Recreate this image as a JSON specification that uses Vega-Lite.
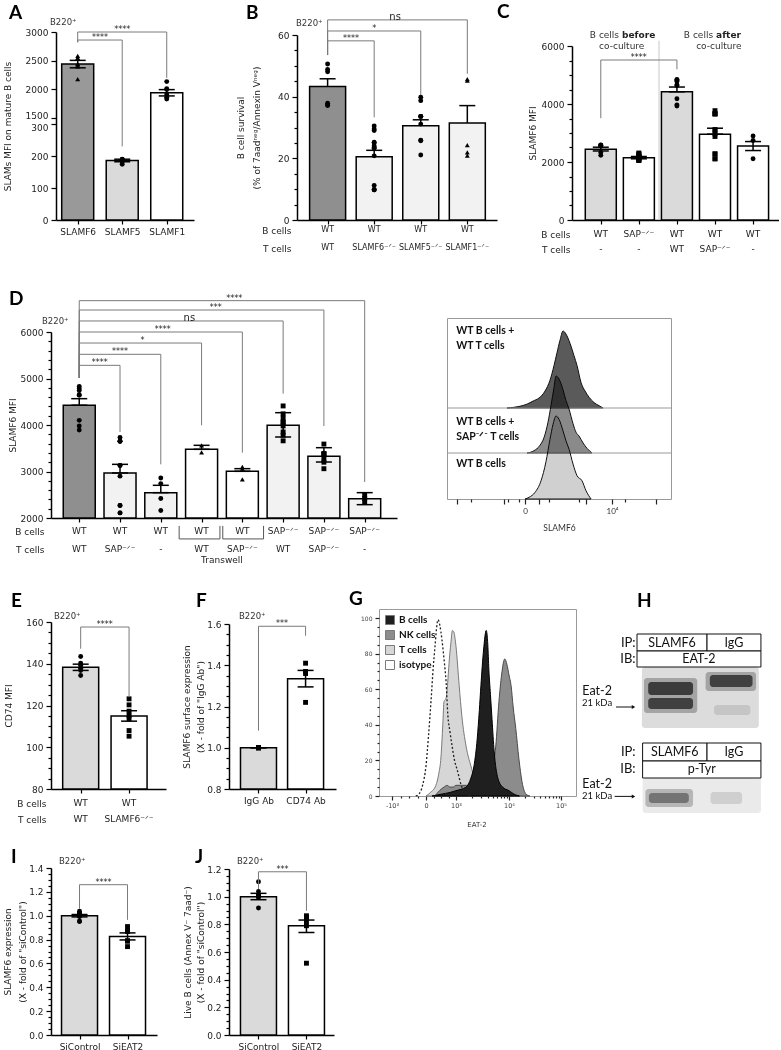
{
"$schema": "https://vega.github.io/schema/vega-lite/v6.json",
"padding": {"left": 3, "top": 2, "right": 0, "bottom": 0},
"background": "white",
"spacing": 0,
"bounds": "flush",
"resolve": {"scale": {"fill": "independent", "shape": "independent"}},
"config": {
 "view": {"stroke": null},
 "font": "DejaVu Sans",
 "axis": {"grid": false, "domainColor": "#000", "domainWidth": 1.5, "tickColor": "#000", "tickWidth": 1.2, "labelColor": "#222", "labelFontSize": 9, "labelFont": "DejaVu Sans", "titleFont": "DejaVu Sans", "titleFontSize": 9, "titleFontWeight": "normal", "titleColor": "#222", "labelOverlap": false, "labelFlush": false},
 "title": {"font": "Lato", "fontSize": 19, "fontWeight": "bold", "color": "#000", "anchor": "start", "frame": "group"},
 "text": {"font": "DejaVu Sans", "fontSize": 9, "color": "#222"}
},
"datasets": {
 "A_bars": [{"g":1,"mean":2440,"lo":2375,"hi":2505},{"g":2,"mean":186,"lo":182,"hi":190},{"g":3,"mean":1940,"lo":1885,"hi":1995}],
 "A_pts": [{"g":1,"v":2540,"rep":-2},{"g":1,"v":2550,"rep":0},{"g":1,"v":2585,"rep":2},{"g":1,"v":2430,"rep":3},{"g":1,"v":2400,"rep":1},{"g":1,"v":2445,"rep":-1},{"g":1,"v":2180,"rep":-1},
  {"g":2,"v":188,"rep":-3},{"g":2,"v":190,"rep":-1},{"g":2,"v":189,"rep":1},{"g":2,"v":187,"rep":3},{"g":2,"v":183,"rep":-2},{"g":2,"v":185,"rep":0},{"g":2,"v":184,"rep":2},{"g":2,"v":174,"rep":0},
  {"g":3,"v":2135,"rep":0},{"g":3,"v":2010,"rep":-2},{"g":3,"v":1995,"rep":2},{"g":3,"v":1905,"rep":0},{"g":3,"v":1860,"rep":2},{"g":3,"v":1830,"rep":-1}],
 "A_br": [{"x1":1,"x2":2,"y":2860,"yl":2820,"yr":230,"mid":1.5,"txt":"****"},{"x1":1,"x2":3,"y":3000,"yl":2820,"yr":2200,"mid":2,"txt":"****"}],
 "B_bars": [{"g":1,"mean":43.3,"lo":43.3,"hi":45.8},{"g":2,"mean":20.5,"lo":20.5,"hi":22.6},{"g":3,"mean":30.6,"lo":30.6,"hi":32.5},{"g":4,"mean":31.5,"lo":31.5,"hi":37.1}],
 "B_pts": [{"g":1,"v":50.6,"rep":0},{"g":1,"v":48.8,"rep":-2},{"g":1,"v":48.1,"rep":2},{"g":1,"v":37.9,"rep":-2},{"g":1,"v":37.1,"rep":0},{"g":1,"v":37.3,"rep":2},
  {"g":2,"v":30.5,"rep":-2},{"g":2,"v":29.0,"rep":0},{"g":2,"v":29.5,"rep":2},{"g":2,"v":25.2,"rep":-2},{"g":2,"v":25.0,"rep":0},{"g":2,"v":23.5,"rep":-2},{"g":2,"v":23.3,"rep":0},{"g":2,"v":24.0,"rep":2},{"g":2,"v":20.8,"rep":-1},{"g":2,"v":11.2,"rep":0},{"g":2,"v":9.8,"rep":-2},{"g":2,"v":9.8,"rep":0},{"g":2,"v":9.8,"rep":2},
  {"g":3,"v":39.8,"rep":-1},{"g":3,"v":38.7,"rep":1},{"g":3,"v":33.6,"rep":-2},{"g":3,"v":33.6,"rep":0},{"g":3,"v":33.6,"rep":2},{"g":3,"v":31.1,"rep":0},{"g":3,"v":25.9,"rep":-1},{"g":3,"v":25.7,"rep":1},{"g":3,"v":21.1,"rep":0},
  {"g":4,"v":45.2,"rep":-1},{"g":4,"v":45.7,"rep":1},{"g":4,"v":24.3,"rep":0},{"g":4,"v":21.9,"rep":1},{"g":4,"v":20.9,"rep":-1}],
 "B_br": [{"x1":1,"x2":2,"y":58.1,"yl":53.5,"yr":33.3,"mid":1.5,"txt":"****"},{"x1":1,"x2":3,"y":61.3,"yl":53.5,"yr":40.5,"mid":2,"txt":"*"},{"x1":1,"x2":4,"y":64.9,"yl":53.5,"yr":47.4,"mid":2.45,"txt":"ns"}],
 "B_lab": [{"g":1,"row":"B cells","txt":"WT"},{"g":2,"row":"B cells","txt":"WT"},{"g":3,"row":"B cells","txt":"WT"},{"g":4,"row":"B cells","txt":"WT"},
  {"g":1,"row":"T cells","txt":"WT"},{"g":2,"row":"T cells","txt":"SLAMF6⁻ᐟ⁻"},{"g":3,"row":"T cells","txt":"SLAMF5⁻ᐟ⁻"},{"g":4,"row":"T cells","txt":"SLAMF1⁻ᐟ⁻"}],
 "C_bars": [{"g":1,"mean":2440,"lo":2380,"hi":2510},{"g":2,"mean":2150,"lo":2110,"hi":2190},{"g":3,"mean":4420,"lo":4420,"hi":4585},{"g":4,"mean":2960,"lo":2960,"hi":3165},{"g":5,"mean":2550,"lo":2395,"hi":2705}],
 "C_pts": [{"g":1,"v":2590,"rep":-3},{"g":1,"v":2550,"rep":-1},{"g":1,"v":2560,"rep":1},{"g":1,"v":2580,"rep":3},{"g":1,"v":2330,"rep":-1},{"g":1,"v":2230,"rep":1},
  {"g":2,"v":2280,"rep":-3},{"g":2,"v":2200,"rep":-1},{"g":2,"v":2310,"rep":1},{"g":2,"v":2250,"rep":3},{"g":2,"v":2160,"rep":-2},{"g":2,"v":2170,"rep":0},{"g":2,"v":2200,"rep":2},{"g":2,"v":2080,"rep":-3},{"g":2,"v":2050,"rep":-1},{"g":2,"v":2060,"rep":1},{"g":2,"v":2120,"rep":3},{"g":2,"v":2100,"rep":0},
  {"g":3,"v":4850,"rep":-2},{"g":3,"v":4780,"rep":0},{"g":3,"v":4820,"rep":2},{"g":3,"v":4660,"rep":-3},{"g":3,"v":4640,"rep":1},{"g":3,"v":4180,"rep":-1},{"g":3,"v":3970,"rep":-3},{"g":3,"v":3930,"rep":0},
  {"g":4,"v":3770,"rep":-3},{"g":4,"v":3660,"rep":-1},{"g":4,"v":3660,"rep":1},{"g":4,"v":3660,"rep":3},{"g":4,"v":3120,"rep":-1},{"g":4,"v":3090,"rep":1},{"g":4,"v":2970,"rep":-2},{"g":4,"v":2880,"rep":0},{"g":4,"v":2280,"rep":-3},{"g":4,"v":2280,"rep":2},{"g":4,"v":2110,"rep":-1},{"g":4,"v":2110,"rep":1},
  {"g":5,"v":2900,"rep":2},{"g":5,"v":2740,"rep":-1},{"g":5,"v":2110,"rep":-1}],
 "C_br": [{"x1":1,"x2":3,"y":5517,"yl":3510,"yr":5195,"mid":2,"txt":"****"}],
 "C_lab": [{"g":1,"row":"B cells","txt":"WT"},{"g":2,"row":"B cells","txt":"SAP⁻ᐟ⁻"},{"g":3,"row":"B cells","txt":"WT"},{"g":4,"row":"B cells","txt":"WT"},{"g":5,"row":"B cells","txt":"WT"},
  {"g":1,"row":"T cells","txt":"-"},{"g":2,"row":"T cells","txt":"-"},{"g":3,"row":"T cells","txt":"WT"},{"g":4,"row":"T cells","txt":"SAP⁻ᐟ⁻"},{"g":5,"row":"T cells","txt":"-"}],
 "D_bars": [{"g":1,"mean":4425,"lo":4425,"hi":4566},{"g":2,"mean":2968,"lo":2968,"hi":3154},{"g":3,"mean":2545,"lo":2545,"hi":2703},{"g":4,"mean":3477,"lo":3477,"hi":3563},{"g":5,"mean":3004,"lo":3004,"hi":3061},{"g":6,"mean":3995,"lo":3742,"hi":4265},{"g":7,"mean":3326,"lo":3204,"hi":3512},{"g":8,"mean":2416,"lo":2287,"hi":2545}],
 "D_pts": [{"g":1,"v":4830,"rep":-1},{"g":1,"v":4780,"rep":1},{"g":1,"v":4740,"rep":-3},{"g":1,"v":4650,"rep":2},{"g":1,"v":4640,"rep":-1},{"g":1,"v":4100,"rep":0},{"g":1,"v":3980,"rep":1},{"g":1,"v":3890,"rep":-1},
  {"g":2,"v":3650,"rep":-3},{"g":2,"v":3650,"rep":-1},{"g":2,"v":3650,"rep":1},{"g":2,"v":3730,"rep":3},{"g":2,"v":3130,"rep":-2},{"g":2,"v":3130,"rep":1},{"g":2,"v":2900,"rep":0},{"g":2,"v":2270,"rep":-1},{"g":2,"v":2270,"rep":1},{"g":2,"v":2110,"rep":-1},{"g":2,"v":2110,"rep":1},
  {"g":3,"v":2860,"rep":1},{"g":3,"v":2740,"rep":-1},{"g":3,"v":2420,"rep":0},{"g":3,"v":2160,"rep":0},
  {"g":4,"v":3560,"rep":0},{"g":4,"v":3410,"rep":0},
  {"g":5,"v":3060,"rep":-2},{"g":5,"v":3100,"rep":2},{"g":5,"v":2830,"rep":0},
  {"g":6,"v":4410,"rep":0},{"g":6,"v":4240,"rep":1},{"g":6,"v":4150,"rep":-1},{"g":6,"v":4060,"rep":-2},{"g":6,"v":4060,"rep":2},{"g":6,"v":3980,"rep":0},{"g":6,"v":3850,"rep":2},{"g":6,"v":3780,"rep":-1},{"g":6,"v":3660,"rep":-1},
  {"g":7,"v":3590,"rep":0},{"g":7,"v":3380,"rep":-3},{"g":7,"v":3380,"rep":0},{"g":7,"v":3380,"rep":3},{"g":7,"v":3260,"rep":1},{"g":7,"v":3200,"rep":-2},{"g":7,"v":3060,"rep":0},
  {"g":8,"v":2490,"rep":0},{"g":8,"v":2420,"rep":-1},{"g":8,"v":2340,"rep":1}],
 "D_br": [{"x1":1,"x2":2,"y":5283,"yl":5011,"yr":3849,"mid":1.5,"txt":"****"},{"x1":1,"x2":3,"y":5520,"yl":5011,"yr":3154,"mid":2,"txt":"****"},{"x1":1,"x2":4,"y":5763,"yl":5011,"yr":3993,"mid":2.55,"txt":"*"},{"x1":1,"x2":5,"y":6000,"yl":5011,"yr":3405,"mid":3.05,"txt":"****"},{"x1":1,"x2":6,"y":6237,"yl":5011,"yr":4674,"mid":3.7,"txt":"ns"},{"x1":1,"x2":7,"y":6473,"yl":5011,"yr":3978,"mid":4.35,"txt":"***"},{"x1":1,"x2":8,"y":6674,"yl":5011,"yr":2774,"mid":4.8,"txt":"****"}],
 "D_tw": [{"x1":3.45,"x2":4.45,"top":1830,"bot":1550},{"x1":4.52,"x2":5.52,"top":1830,"bot":1550}],
 "D_lab": [{"g":1,"row":"B cells","txt":"WT"},{"g":2,"row":"B cells","txt":"WT"},{"g":3,"row":"B cells","txt":"WT"},{"g":4,"row":"B cells","txt":"WT"},{"g":5,"row":"B cells","txt":"WT"},{"g":6,"row":"B cells","txt":"SAP⁻ᐟ⁻"},{"g":7,"row":"B cells","txt":"SAP⁻ᐟ⁻"},{"g":8,"row":"B cells","txt":"SAP⁻ᐟ⁻"},
  {"g":1,"row":"T cells","txt":"WT"},{"g":2,"row":"T cells","txt":"SAP⁻ᐟ⁻"},{"g":3,"row":"T cells","txt":"-"},{"g":4,"row":"T cells","txt":"WT"},{"g":5,"row":"T cells","txt":"SAP⁻ᐟ⁻"},{"g":6,"row":"T cells","txt":"WT"},{"g":7,"row":"T cells","txt":"SAP⁻ᐟ⁻"},{"g":8,"row":"T cells","txt":"-"}],
 "HIST": [
  {"s":"top","t":-0.207,"c":0},{"s":"top","t":-0.069,"c":2},{"s":"top","t":0.023,"c":5},{"s":"top","t":0.092,"c":9},{"s":"top","t":0.161,"c":13},{"s":"top","t":0.23,"c":22},{"s":"top","t":0.287,"c":36},{"s":"top","t":0.333,"c":55},{"s":"top","t":0.368,"c":72},{"s":"top","t":0.402,"c":88},{"s":"top","t":0.437,"c":100},{"s":"top","t":0.471,"c":96},{"s":"top","t":0.517,"c":84},{"s":"top","t":0.563,"c":68},{"s":"top","t":0.598,"c":55},{"s":"top","t":0.644,"c":33},{"s":"top","t":0.69,"c":22},{"s":"top","t":0.736,"c":14},{"s":"top","t":0.793,"c":7},{"s":"top","t":0.851,"c":3},{"s":"top","t":0.897,"c":0},
  {"s":"mid","t":0.023,"c":0},{"s":"mid","t":0.103,"c":3},{"s":"mid","t":0.172,"c":10},{"s":"mid","t":0.218,"c":20},{"s":"mid","t":0.264,"c":40},{"s":"mid","t":0.299,"c":62},{"s":"mid","t":0.333,"c":85},{"s":"mid","t":0.356,"c":100},{"s":"mid","t":0.391,"c":96},{"s":"mid","t":0.437,"c":82},{"s":"mid","t":0.471,"c":68},{"s":"mid","t":0.506,"c":57},{"s":"mid","t":0.552,"c":38},{"s":"mid","t":0.586,"c":27},{"s":"mid","t":0.621,"c":22},{"s":"mid","t":0.667,"c":13},{"s":"mid","t":0.713,"c":6},{"s":"mid","t":0.77,"c":0},
  {"s":"bot","t":0.0,"c":0},{"s":"bot","t":0.046,"c":2},{"s":"bot","t":0.115,"c":8},{"s":"bot","t":0.184,"c":22},{"s":"bot","t":0.241,"c":45},{"s":"bot","t":0.287,"c":72},{"s":"bot","t":0.322,"c":90},{"s":"bot","t":0.356,"c":100},{"s":"bot","t":0.391,"c":96},{"s":"bot","t":0.437,"c":82},{"s":"bot","t":0.471,"c":70},{"s":"bot","t":0.506,"c":60},{"s":"bot","t":0.552,"c":42},{"s":"bot","t":0.598,"c":28},{"s":"bot","t":0.655,"c":22},{"s":"bot","t":0.701,"c":10},{"s":"bot","t":0.759,"c":0}],
 "E_bars": [{"g":1,"mean":138.3,"lo":136.8,"hi":139.8},{"g":2,"mean":115,"lo":112.5,"hi":117.5}],
 "E_pts": [{"g":1,"v":143.5,"rep":0},{"g":1,"v":140.3,"rep":-1},{"g":1,"v":139.2,"rep":1},{"g":1,"v":137.9,"rep":-2},{"g":1,"v":136.8,"rep":1},{"g":1,"v":134.4,"rep":-1},
  {"g":2,"v":123.2,"rep":0},{"g":2,"v":120.3,"rep":0},{"g":2,"v":117.3,"rep":1},{"g":2,"v":115.2,"rep":-1},{"g":2,"v":113.6,"rep":0},{"g":2,"v":108,"rep":0},{"g":2,"v":105.3,"rep":0}],
 "E_br": [{"x1":1,"x2":2,"y":157.6,"yl":147.2,"yr":124,"mid":1.5,"txt":"****"}],
 "E_lab": [{"g":1,"row":"B cells","txt":"WT"},{"g":2,"row":"B cells","txt":"WT"},{"g":1,"row":"T cells","txt":"WT"},{"g":2,"row":"T cells","txt":"SLAMF6⁻ᐟ⁻"}],
 "F_bars": [{"g":1,"mean":1.0,"lo":1.0,"hi":1.0},{"g":2,"mean":1.335,"lo":1.295,"hi":1.375}],
 "F_pts": [{"g":1,"v":1.0,"rep":-3},{"g":1,"v":1.0,"rep":-1},{"g":1,"v":1.0,"rep":1},{"g":1,"v":1.0,"rep":3},{"g":2,"v":1.41,"rep":0},{"g":2,"v":1.37,"rep":-1},{"g":2,"v":1.36,"rep":1},{"g":2,"v":1.22,"rep":0}],
 "F_br": [{"x1":1,"x2":2,"y":1.589,"yl":1.083,"yr":1.543,"mid":1.5,"txt":"***"}],
 "G": [
  {"cell":"isotype","t":-0.3,"pct":0},{"cell":"isotype","t":-0.21,"pct":1},{"cell":"isotype","t":-0.1,"pct":6},{"cell":"isotype","t":0,"pct":17},{"cell":"isotype","t":0.08,"pct":33},{"cell":"isotype","t":0.17,"pct":54},{"cell":"isotype","t":0.24,"pct":72},{"cell":"isotype","t":0.3,"pct":84},{"cell":"isotype","t":0.35,"pct":94},{"cell":"isotype","t":0.4,"pct":99},{"cell":"isotype","t":0.46,"pct":96},{"cell":"isotype","t":0.53,"pct":88},{"cell":"isotype","t":0.6,"pct":77},{"cell":"isotype","t":0.67,"pct":64},{"cell":"isotype","t":0.73,"pct":45},{"cell":"isotype","t":0.8,"pct":36},{"cell":"isotype","t":0.87,"pct":28},{"cell":"isotype","t":0.95,"pct":20},{"cell":"isotype","t":1.02,"pct":15},{"cell":"isotype","t":1.11,"pct":5},{"cell":"isotype","t":1.2,"pct":1},{"cell":"isotype","t":1.3,"pct":0},
  {"cell":"T cells","t":0.0,"pct":0},{"cell":"T cells","t":0.15,"pct":2},{"cell":"T cells","t":0.33,"pct":6},{"cell":"T cells","t":0.42,"pct":12},{"cell":"T cells","t":0.5,"pct":22},{"cell":"T cells","t":0.56,"pct":40},{"cell":"T cells","t":0.6,"pct":53},{"cell":"T cells","t":0.67,"pct":55},{"cell":"T cells","t":0.72,"pct":63},{"cell":"T cells","t":0.77,"pct":75},{"cell":"T cells","t":0.83,"pct":86},{"cell":"T cells","t":0.88,"pct":93},{"cell":"T cells","t":0.93,"pct":92},{"cell":"T cells","t":1.0,"pct":84},{"cell":"T cells","t":1.06,"pct":62},{"cell":"T cells","t":1.11,"pct":45},{"cell":"T cells","t":1.19,"pct":28},{"cell":"T cells","t":1.28,"pct":17},{"cell":"T cells","t":1.38,"pct":8},{"cell":"T cells","t":1.49,"pct":6},{"cell":"T cells","t":1.6,"pct":5},{"cell":"T cells","t":1.75,"pct":3},{"cell":"T cells","t":1.9,"pct":1},{"cell":"T cells","t":2.05,"pct":0},
  {"cell":"NK cells","t":0.3,"pct":0},{"cell":"NK cells","t":0.45,"pct":3},{"cell":"NK cells","t":0.6,"pct":5},{"cell":"NK cells","t":0.7,"pct":6},{"cell":"NK cells","t":0.8,"pct":5},{"cell":"NK cells","t":0.9,"pct":5},{"cell":"NK cells","t":1.0,"pct":6},{"cell":"NK cells","t":1.1,"pct":6},{"cell":"NK cells","t":1.2,"pct":6},{"cell":"NK cells","t":1.3,"pct":6},{"cell":"NK cells","t":1.4,"pct":7},{"cell":"NK cells","t":1.5,"pct":9},{"cell":"NK cells","t":1.6,"pct":11},{"cell":"NK cells","t":1.68,"pct":15},{"cell":"NK cells","t":1.75,"pct":28},{"cell":"NK cells","t":1.81,"pct":53},{"cell":"NK cells","t":1.86,"pct":68},{"cell":"NK cells","t":1.92,"pct":77},{"cell":"NK cells","t":1.96,"pct":74},{"cell":"NK cells","t":2.0,"pct":68},{"cell":"NK cells","t":2.04,"pct":62},{"cell":"NK cells","t":2.08,"pct":50},{"cell":"NK cells","t":2.13,"pct":38},{"cell":"NK cells","t":2.19,"pct":21},{"cell":"NK cells","t":2.25,"pct":8},{"cell":"NK cells","t":2.33,"pct":1},{"cell":"NK cells","t":2.4,"pct":0},
  {"cell":"B cells","t":0.2,"pct":0},{"cell":"B cells","t":0.5,"pct":1},{"cell":"B cells","t":0.8,"pct":2},{"cell":"B cells","t":1.0,"pct":3},{"cell":"B cells","t":1.19,"pct":5},{"cell":"B cells","t":1.28,"pct":10},{"cell":"B cells","t":1.34,"pct":17},{"cell":"B cells","t":1.4,"pct":32},{"cell":"B cells","t":1.44,"pct":48},{"cell":"B cells","t":1.47,"pct":62},{"cell":"B cells","t":1.52,"pct":82},{"cell":"B cells","t":1.57,"pct":93},{"cell":"B cells","t":1.6,"pct":85},{"cell":"B cells","t":1.62,"pct":71},{"cell":"B cells","t":1.65,"pct":57},{"cell":"B cells","t":1.68,"pct":43},{"cell":"B cells","t":1.72,"pct":25},{"cell":"B cells","t":1.79,"pct":10},{"cell":"B cells","t":1.88,"pct":5},{"cell":"B cells","t":2.0,"pct":3},{"cell":"B cells","t":2.1,"pct":1},{"cell":"B cells","t":2.2,"pct":0}],
 "H_box": [{"x1":0,"x2":1,"y1":1.25,"y2":2.1},{"x1":1,"x2":1.77,"y1":1.25,"y2":2.1},{"x1":0,"x2":1.77,"y1":2.1,"y2":2.9},{"x1":0.08,"x2":1,"y1":6.7,"y2":7.6},{"x1":1,"x2":1.77,"y1":6.7,"y2":7.6},{"x1":0.08,"x2":1.77,"y1":7.6,"y2":8.45}],
 "H_blot": [{"x1":0.07,"x2":1.74,"y1":2.9,"y2":5.95,"signal":0.13},{"x1":0.08,"x2":1.77,"y1":8.45,"y2":10.2,"signal":0.08},
  {"x1":0.1,"x2":0.86,"y1":3.45,"y2":5.2,"signal":0.35},{"x1":0.16,"x2":0.8,"y1":3.65,"y2":4.3,"signal":0.8},{"x1":0.16,"x2":0.8,"y1":4.45,"y2":5.0,"signal":0.78},
  {"x1":0.98,"x2":1.7,"y1":3.15,"y2":4.1,"signal":0.35},{"x1":1.04,"x2":1.65,"y1":3.3,"y2":3.9,"signal":0.78},{"x1":1.1,"x2":1.62,"y1":4.8,"y2":5.3,"signal":0.22},
  {"x1":0.12,"x2":0.8,"y1":9.0,"y2":9.9,"signal":0.28},{"x1":0.17,"x2":0.74,"y1":9.2,"y2":9.7,"signal":0.55},{"x1":1.05,"x2":1.5,"y1":9.15,"y2":9.75,"signal":0.18}],
 "H_txt": [{"x":-0.02,"y":1.68,"txt":"IP:"},{"x":-0.02,"y":2.5,"txt":"IB:"},{"x":-0.02,"y":7.15,"txt":"IP:"},{"x":-0.02,"y":8.02,"txt":"IB:"},
  {"x":0.5,"y":1.68,"txt":"SLAMF6"},{"x":1.385,"y":1.68,"txt":"IgG"},{"x":0.885,"y":2.5,"txt":"EAT-2"},{"x":0.54,"y":7.15,"txt":"SLAMF6"},{"x":1.385,"y":7.15,"txt":"IgG"},{"x":0.925,"y":8.02,"txt":"p-Tyr"},
  {"x":-0.57,"y":4.12,"txt":"Eat-2"},{"x":-0.57,"y":4.72,"txt":"21 kDa"},{"x":-0.57,"y":8.75,"txt":"Eat-2"},{"x":-0.57,"y":9.37,"txt":"21 kDa"}],
 "H_arr": [{"x1":-0.3,"x2":-0.05,"y":4.9},{"x1":-0.32,"x2":-0.05,"y":9.37}],
 "I_bars": [{"g":1,"mean":1.0,"lo":0.99,"hi":1.01},{"g":2,"mean":0.825,"lo":0.797,"hi":0.856}],
 "I_pts": [{"g":1,"v":1.024,"rep":-3},{"g":1,"v":1.012,"rep":-1},{"g":1,"v":1.010,"rep":1},{"g":1,"v":1.038,"rep":3},{"g":1,"v":0.995,"rep":-2},{"g":1,"v":0.993,"rep":0},{"g":1,"v":1.0,"rep":2},{"g":1,"v":0.954,"rep":0},{"g":1,"v":0.951,"rep":2},
  {"g":2,"v":0.909,"rep":0},{"g":2,"v":0.867,"rep":-2},{"g":2,"v":0.867,"rep":1},{"g":2,"v":0.791,"rep":-1},{"g":2,"v":0.786,"rep":1},{"g":2,"v":0.741,"rep":-2}],
 "I_br": [{"x1":1,"x2":2,"y":1.26,"yl":1.058,"yr":0.965,"mid":1.5,"txt":"****"}],
 "J_bars": [{"g":1,"mean":1.0,"lo":0.978,"hi":1.024},{"g":2,"mean":0.79,"lo":0.741,"hi":0.831}],
 "J_pts": [{"g":1,"v":1.108,"rep":0},{"g":1,"v":1.038,"rep":0},{"g":1,"v":1.012,"rep":-2},{"g":1,"v":1.012,"rep":2},{"g":1,"v":1.0,"rep":-3},{"g":1,"v":1.0,"rep":3},{"g":1,"v":0.995,"rep":0},{"g":1,"v":0.918,"rep":0},
  {"g":2,"v":0.85,"rep":-3},{"g":2,"v":0.85,"rep":-1},{"g":2,"v":0.85,"rep":1},{"g":2,"v":0.862,"rep":3},{"g":2,"v":0.821,"rep":0},{"g":2,"v":0.79,"rep":0},{"g":2,"v":0.519,"rep":0}],
 "J_br": [{"x1":1,"x2":2,"y":1.18,"yl":1.055,"yr":0.898,"mid":1.5,"txt":"***"}]
},
"vconcat": [
 {"hconcat": [
 {
  "width": 143, "height": 188,
  "title": {"text": "A", "dx": -42, "offset": -5},
  "resolve": {"axis": {"y": "independent"}},
  "layer": [
   {"data": {"values": [{}]}, "mark": {"type": "rule", "color": "#ffffff", "strokeWidth": 3}, "encoding": {"x": {"datum": 0.625, "type": "quantitative", "scale": {"domain": [0.625, 3.5], "range": [5, 143], "nice": false, "zero": false}, "axis": {"values": [1,2,3], "labelExpr": "datum.value == 1 ? 'SLAMF6' : datum.value == 2 ? 'SLAMF5' : 'SLAMF1'", "title": null, "tickSize": 4, "labelPadding": 3}}, "y": {"datum": 315, "type": "quantitative", "scale": {"domain": [0, 300, 1500, 3000], "range": [188, 92, 86, 0], "nice": false, "zero": false}, "axis": null}, "y2": {"datum": 1480}}},
   {"data": {"name": "A_bars"}, "mark": {"type": "bar", "size": 32, "stroke": "#000", "strokeWidth": 1.5, "opacity": 1},
    "encoding": {
     "x": {"field": "g", "type": "quantitative"},
     "y": {"field": "mean", "type": "quantitative", "axis": {"orient": "left", "values": [1500,2000,2500,3000], "format": "d", "title": "SLAMs MFI on mature B cells", "offset": -5, "tickSize": 5, "labelPadding": 3, "titlePadding": 13, "zindex": 0, "labelOffset": {"condition": {"test": "datum.value == 1500", "value": -3}, "value": 0}}},
     "fill": {"field": "g", "type": "nominal", "scale": {"domain": [1,2,3], "range": ["#999999","#dadada","#ffffff"]}, "legend": null}}},
   {"data": {"name": "A_bars"}, "mark": {"type": "rule", "color": "#000", "strokeWidth": 1.5}, "encoding": {"x": {"field": "g", "type": "quantitative"}, "y": {"field": "lo", "type": "quantitative", "axis": null}, "y2": {"field": "hi"}}},
   {"data": {"name": "A_bars"}, "mark": {"type": "tick", "orient": "horizontal", "size": 16, "thickness": 1.5, "color": "#000", "opacity": 1}, "encoding": {"x": {"field": "g", "type": "quantitative"}, "y": {"field": "hi", "type": "quantitative", "axis": null}}},
   {"data": {"name": "A_bars"}, "mark": {"type": "tick", "orient": "horizontal", "size": 16, "thickness": 1.5, "color": "#000", "opacity": 1}, "encoding": {"x": {"field": "g", "type": "quantitative"}, "y": {"field": "lo", "type": "quantitative", "axis": null}}},
   {"data": {"name": "A_pts"}, "mark": {"type": "point", "filled": true, "color": "#000", "size": 24, "opacity": 1},
    "encoding": {"x": {"field": "g", "type": "quantitative"}, "xOffset": {"field": "rep", "type": "quantitative", "scale": {"domain": [-3, 3], "range": [-9, 9]}},
     "y": {"field": "v", "type": "quantitative", "axis": {"orient": "left", "values": [0,100,200,300], "format": "d", "title": null, "offset": -5, "domain": false, "tickSize": 5, "labelPadding": 3, "zindex": 0, "labelOffset": {"condition": {"test": "datum.value == 300", "value": 3}, "value": 0}}},
     "shape": {"field": "g", "type": "nominal", "scale": {"domain": [1,2,3], "range": ["triangle-up","circle","circle"]}, "legend": null}}},
   {"data": {"name": "A_br"}, "mark": {"type": "rule", "color": "#7a7a7a", "strokeWidth": 1}, "encoding": {"x": {"field": "x1", "type": "quantitative"}, "x2": {"field": "x2"}, "y": {"field": "y", "type": "quantitative", "axis": null}}},
   {"data": {"name": "A_br"}, "mark": {"type": "rule", "color": "#7a7a7a", "strokeWidth": 1}, "encoding": {"x": {"field": "x1", "type": "quantitative"}, "y": {"field": "y", "type": "quantitative", "axis": null}, "y2": {"field": "yl"}}},
   {"data": {"name": "A_br"}, "mark": {"type": "rule", "color": "#7a7a7a", "strokeWidth": 1}, "encoding": {"x": {"field": "x2", "type": "quantitative"}, "y": {"field": "y", "type": "quantitative", "axis": null}, "y2": {"field": "yr"}}},
   {"data": {"name": "A_br"}, "mark": {"type": "text", "baseline": "bottom", "dy": 2, "color": "#222", "fontSize": 8}, "encoding": {"x": {"field": "mid", "type": "quantitative"}, "y": {"field": "y", "type": "quantitative", "axis": null}, "text": {"field": "txt"}}},
   {"data": {"values": [{}]}, "mark": {"type": "text", "align": "left", "baseline": "middle", "dx": -11, "dy": -10, "fontSize": 8.5, "color": "#333"}, "encoding": {"x": {"datum": 0.625, "type": "quantitative"}, "y": {"datum": 3000, "type": "quantitative", "axis": null}, "text": {"value": "B220⁺"}}}
  ]
 },
 {"width": 103, "height": 1, "data": {"values": []}, "mark": "point"},
 {
  "width": 200, "height": 188,
  "title": {"text": "B", "dx": -51, "offset": -11},
  "resolve": {"scale": {"y": "independent"}},
  "layer": [
   {"resolve": {"axis": {"y": "independent"}},
    "layer": [
    {"data": {"name": "B_bars"}, "mark": {"type": "bar", "size": 36, "stroke": "#000", "strokeWidth": 1.5, "opacity": 1},
     "encoding": {
      "x": {"field": "g", "type": "quantitative", "scale": {"domain": [0.45, 4.53], "nice": false, "zero": false}, "axis": {"values": [1,2,3,4], "labels": false, "title": null, "tickSize": 4}},
      "y": {"field": "mean", "type": "quantitative", "scale": {"domain": [0, 60], "range": [188, 3], "nice": false}, "axis": {"orient": "left", "values": [0,20,40,60], "format": "d", "tickSize": 5, "labelPadding": 3, "title": ["B cell survival", "(% of 7aadⁿᵉᵍ/Annexin Vⁿᵉᵍ)"], "titlePadding": 16, "titleLineHeight": 16}},
      "fill": {"field": "g", "type": "nominal", "scale": {"domain": [1,2,3,4], "range": ["#8f8f8f","#f2f2f2","#f2f2f2","#f2f2f2"]}, "legend": null}}},
    {"data": {"name": "B_bars"}, "mark": {"type": "rule", "color": "#000", "strokeWidth": 1.5}, "encoding": {"x": {"field": "g", "type": "quantitative"}, "y": {"field": "lo", "type": "quantitative", "axis": null}, "y2": {"field": "hi"}}},
    {"data": {"name": "B_bars"}, "mark": {"type": "tick", "orient": "horizontal", "size": 16, "thickness": 1.5, "color": "#000", "opacity": 1}, "encoding": {"x": {"field": "g", "type": "quantitative"}, "y": {"field": "hi", "type": "quantitative", "axis": null}}},
    {"data": {"name": "B_pts"}, "mark": {"type": "point", "filled": true, "color": "#000", "size": 24, "opacity": 1},
     "encoding": {"x": {"field": "g", "type": "quantitative"}, "xOffset": {"field": "rep", "type": "quantitative", "scale": {"domain": [-3, 3], "range": [-9, 9]}},
      "y": {"field": "v", "type": "quantitative", "axis": {"orient": "left", "values": [5,10,15,25,30,35,45,50,55], "labels": false, "domain": false, "tickSize": 3, "title": null}},
      "shape": {"field": "g", "type": "nominal", "scale": {"domain": [1,2,3,4], "range": ["circle","circle","circle","triangle-up"]}, "legend": null}}},
    {"data": {"name": "B_br"}, "mark": {"type": "rule", "color": "#7a7a7a", "strokeWidth": 1}, "encoding": {"x": {"field": "x1", "type": "quantitative"}, "x2": {"field": "x2"}, "y": {"field": "y", "type": "quantitative", "axis": null}}},
    {"data": {"name": "B_br"}, "mark": {"type": "rule", "color": "#7a7a7a", "strokeWidth": 1}, "encoding": {"x": {"field": "x1", "type": "quantitative"}, "y": {"field": "y", "type": "quantitative", "axis": null}, "y2": {"field": "yl"}}},
    {"data": {"name": "B_br"}, "mark": {"type": "rule", "color": "#7a7a7a", "strokeWidth": 1}, "encoding": {"x": {"field": "x2", "type": "quantitative"}, "y": {"field": "y", "type": "quantitative", "axis": null}, "y2": {"field": "yr"}}},
    {"data": {"name": "B_br"}, "mark": {"type": "text", "baseline": "bottom", "dy": 2, "color": "#222"}, "encoding": {"x": {"field": "mid", "type": "quantitative"}, "y": {"field": "y", "type": "quantitative", "axis": null}, "text": {"field": "txt"}, "size": {"condition": {"test": "datum.txt == 'ns'", "value": 10}, "value": 8}}},
    {"data": {"values": [{}]}, "mark": {"type": "text", "align": "left", "baseline": "middle", "dx": -6, "dy": -12, "fontSize": 8.5, "color": "#333"}, "encoding": {"x": {"datum": 0.45, "type": "quantitative"}, "y": {"datum": 60, "type": "quantitative", "axis": null}, "text": {"value": "B220⁺"}}}
   ]},
   {"data": {"name": "B_lab"}, "mark": {"type": "text", "baseline": "middle", "fontSize": 8, "color": "#222"},
    "encoding": {"x": {"field": "g", "type": "quantitative"}, "y": {"field": "row", "type": "nominal", "scale": {"type": "point", "domain": ["B cells","T cells"], "range": [198, 216], "padding": 0}, "axis": {"orient": "left", "domain": false, "ticks": false, "title": null, "labelPadding": 6}}, "text": {"field": "txt"}}}
  ]
 },
 {"width": 75, "height": 1, "data": {"values": []}, "mark": "point"},
 {
  "width": 207, "height": 188,
  "title": {"text": "C", "dx": -75, "offset": 9},
  "resolve": {"scale": {"y": "independent"}},
  "layer": [
   {"resolve": {"axis": {"y": "independent"}},
    "layer": [
    {"data": {"name": "C_bars"}, "mark": {"type": "bar", "size": 31, "stroke": "#000", "strokeWidth": 1.5, "opacity": 1},
     "encoding": {
      "x": {"field": "g", "type": "quantitative", "scale": {"domain": [0.375, 5.55], "nice": false, "zero": false}, "axis": {"values": [1,2,3,4,5], "labels": false, "title": null, "tickSize": 4}},
      "y": {"field": "mean", "type": "quantitative", "scale": {"domain": [0, 6000], "range": [188, 14], "nice": false}, "axis": {"orient": "left", "values": [0,2000,4000,6000], "format": "d", "tickSize": 5, "labelPadding": 3, "title": "SLAMF6 MFI", "titlePadding": 4}},
      "fill": {"field": "g", "type": "nominal", "scale": {"domain": [1,2,3,4,5], "range": ["#dadada","#ffffff","#dadada","#ffffff","#ffffff"]}, "legend": null}}},
    {"data": {"name": "C_bars"}, "mark": {"type": "rule", "color": "#000", "strokeWidth": 1.5}, "encoding": {"x": {"field": "g", "type": "quantitative"}, "y": {"field": "lo", "type": "quantitative", "axis": null}, "y2": {"field": "hi"}}},
    {"data": {"name": "C_bars"}, "mark": {"type": "tick", "orient": "horizontal", "size": 16, "thickness": 1.5, "color": "#000", "opacity": 1}, "encoding": {"x": {"field": "g", "type": "quantitative"}, "y": {"field": "hi", "type": "quantitative", "axis": null}}},
    {"data": {"name": "C_bars"}, "mark": {"type": "tick", "orient": "horizontal", "size": 16, "thickness": 1.5, "color": "#000", "opacity": 1}, "encoding": {"x": {"field": "g", "type": "quantitative"}, "y": {"field": "lo", "type": "quantitative", "axis": null}}},
    {"data": {"name": "C_pts"}, "mark": {"type": "point", "filled": true, "color": "#000", "size": 24, "opacity": 1},
     "encoding": {"x": {"field": "g", "type": "quantitative"}, "xOffset": {"field": "rep", "type": "quantitative", "scale": {"domain": [-3, 3], "range": [-9, 9]}},
      "y": {"field": "v", "type": "quantitative", "axis": {"orient": "left", "values": [500,1000,1500,2500,3000,3500,4500,5000,5500], "labels": false, "domain": false, "tickSize": 3, "title": null}},
      "shape": {"field": "g", "type": "nominal", "scale": {"domain": [1,2,3,4,5], "range": ["circle","square","circle","square","circle"]}, "legend": null}}},
    {"data": {"values": [{}]}, "mark": {"type": "rule", "color": "#c8c8c8", "strokeWidth": 1}, "encoding": {"x": {"datum": 2.53, "type": "quantitative"}, "y": {"datum": 0, "type": "quantitative", "axis": null}, "y2": {"datum": 6180}}},
    {"data": {"name": "C_br"}, "mark": {"type": "rule", "color": "#7a7a7a", "strokeWidth": 1}, "encoding": {"x": {"field": "x1", "type": "quantitative"}, "x2": {"field": "x2"}, "y": {"field": "y", "type": "quantitative", "axis": null}}},
    {"data": {"name": "C_br"}, "mark": {"type": "rule", "color": "#7a7a7a", "strokeWidth": 1}, "encoding": {"x": {"field": "x1", "type": "quantitative"}, "y": {"field": "y", "type": "quantitative", "axis": null}, "y2": {"field": "yl"}}},
    {"data": {"name": "C_br"}, "mark": {"type": "rule", "color": "#7a7a7a", "strokeWidth": 1}, "encoding": {"x": {"field": "x2", "type": "quantitative"}, "y": {"field": "y", "type": "quantitative", "axis": null}, "y2": {"field": "yr"}}},
    {"data": {"name": "C_br"}, "mark": {"type": "text", "baseline": "bottom", "dy": 2, "color": "#222", "fontSize": 8}, "encoding": {"x": {"field": "mid", "type": "quantitative"}, "y": {"field": "y", "type": "quantitative", "axis": null}, "text": {"field": "txt"}}},
    {"data": {"values": [{}]}, "mark": {"type": "text", "align": "right", "baseline": "middle", "fontSize": 9, "color": "#333"}, "encoding": {"x": {"datum": 1.48, "type": "quantitative"}, "y": {"datum": 6380, "type": "quantitative", "axis": null}, "text": {"value": "B cells"}}},
    {"data": {"values": [{}]}, "mark": {"type": "text", "align": "left", "baseline": "middle", "dx": 3, "fontSize": 9, "fontWeight": "bold", "color": "#222"}, "encoding": {"x": {"datum": 1.48, "type": "quantitative"}, "y": {"datum": 6380, "type": "quantitative", "axis": null}, "text": {"value": "before"}}},
    {"data": {"values": [{}]}, "mark": {"type": "text", "align": "center", "baseline": "middle", "fontSize": 9, "color": "#333"}, "encoding": {"x": {"datum": 1.55, "type": "quantitative"}, "y": {"datum": 6000, "type": "quantitative", "axis": null}, "text": {"value": "co-culture"}}},
    {"data": {"values": [{}]}, "mark": {"type": "text", "align": "right", "baseline": "middle", "fontSize": 9, "color": "#333"}, "encoding": {"x": {"datum": 3.95, "type": "quantitative"}, "y": {"datum": 6380, "type": "quantitative", "axis": null}, "text": {"value": "B cells"}}},
    {"data": {"values": [{}]}, "mark": {"type": "text", "align": "left", "baseline": "middle", "dx": 3, "fontSize": 9, "fontWeight": "bold", "color": "#222"}, "encoding": {"x": {"datum": 3.95, "type": "quantitative"}, "y": {"datum": 6380, "type": "quantitative", "axis": null}, "text": {"value": "after"}}},
    {"data": {"values": [{}]}, "mark": {"type": "text", "align": "center", "baseline": "middle", "fontSize": 9, "color": "#333"}, "encoding": {"x": {"datum": 4.1, "type": "quantitative"}, "y": {"datum": 6000, "type": "quantitative", "axis": null}, "text": {"value": "co-culture"}}}
   ]},
   {"data": {"name": "C_lab"}, "mark": {"type": "text", "baseline": "middle", "fontSize": 9, "color": "#222"},
    "encoding": {"x": {"field": "g", "type": "quantitative"}, "y": {"field": "row", "type": "nominal", "scale": {"type": "point", "domain": ["B cells","T cells"], "range": [202, 217], "padding": 0}, "axis": {"orient": "left", "domain": false, "ticks": false, "title": null, "labelPadding": 2}}, "text": {"field": "txt"}}}
  ]
 }
 ], "spacing": 0, "bounds": "flush", "resolve": {"scale": {"fill": "independent", "shape": "independent"}}},
 {"width": 1, "height": 286, "data": {"values": []}, "mark": "point"},
 {"hconcat": [
 {
  "width": 346, "height": 200,
  "title": {"text": "D", "dx": -42, "offset": -14},
  "resolve": {"scale": {"y": "independent"}},
  "layer": [
   {"resolve": {"axis": {"y": "independent"}},
    "layer": [
    {"data": {"name": "D_bars"}, "mark": {"type": "bar", "size": 32, "stroke": "#000", "strokeWidth": 1.5, "opacity": 1},
     "encoding": {
      "x": {"field": "g", "type": "quantitative", "scale": {"domain": [0.43, 8.67], "nice": false, "zero": false}, "axis": {"values": [1,2,3,4,5,6,7,8], "labels": false, "title": null, "tickSize": 4}},
      "y": {"field": "mean", "type": "quantitative", "scale": {"domain": [2000, 6000], "range": [200, 14], "nice": false, "zero": false}, "axis": {"orient": "left", "values": [2000,3000,4000,5000,6000], "format": "d", "tickSize": 5, "labelPadding": 3, "title": "SLAMF6 MFI", "titlePadding": 3}},
      "y2": {"datum": 2000},
      "fill": {"field": "g", "type": "nominal", "scale": {"domain": [1,2,3,4,5,6,7,8], "range": ["#8f8f8f","#f2f2f2","#f2f2f2","#ffffff","#ffffff","#f2f2f2","#f2f2f2","#f2f2f2"]}, "legend": null}}},
    {"data": {"name": "D_bars"}, "mark": {"type": "rule", "color": "#000", "strokeWidth": 1.5}, "encoding": {"x": {"field": "g", "type": "quantitative"}, "y": {"field": "lo", "type": "quantitative", "axis": null}, "y2": {"field": "hi"}}},
    {"data": {"name": "D_bars"}, "mark": {"type": "tick", "orient": "horizontal", "size": 16, "thickness": 1.5, "color": "#000", "opacity": 1}, "encoding": {"x": {"field": "g", "type": "quantitative"}, "y": {"field": "hi", "type": "quantitative", "axis": null}}},
    {"data": {"name": "D_bars"}, "mark": {"type": "tick", "orient": "horizontal", "size": 16, "thickness": 1.5, "color": "#000", "opacity": 1}, "encoding": {"x": {"field": "g", "type": "quantitative"}, "y": {"field": "lo", "type": "quantitative", "axis": null}}},
    {"data": {"name": "D_pts"}, "mark": {"type": "point", "filled": true, "color": "#000", "size": 24, "opacity": 1},
     "encoding": {"x": {"field": "g", "type": "quantitative"}, "xOffset": {"field": "rep", "type": "quantitative", "scale": {"domain": [-3, 3], "range": [-9, 9]}},
      "y": {"field": "v", "type": "quantitative", "axis": {"orient": "left", "values": [2200,2400,2600,2800,3200,3400,3600,3800,4200,4400,4600,4800,5200,5400,5600,5800], "labels": false, "domain": false, "tickSize": 3, "title": null}},
      "shape": {"field": "g", "type": "nominal", "scale": {"domain": [1,2,3,4,5,6,7,8], "range": ["circle","circle","circle","triangle-up","triangle-up","square","square","square"]}, "legend": null}}},
    {"data": {"name": "D_br"}, "mark": {"type": "rule", "color": "#7a7a7a", "strokeWidth": 1}, "encoding": {"x": {"field": "x1", "type": "quantitative"}, "x2": {"field": "x2"}, "y": {"field": "y", "type": "quantitative", "axis": null}}},
    {"data": {"name": "D_br"}, "mark": {"type": "rule", "color": "#7a7a7a", "strokeWidth": 1}, "encoding": {"x": {"field": "x1", "type": "quantitative"}, "y": {"field": "y", "type": "quantitative", "axis": null}, "y2": {"field": "yl"}}},
    {"data": {"name": "D_br"}, "mark": {"type": "rule", "color": "#7a7a7a", "strokeWidth": 1}, "encoding": {"x": {"field": "x2", "type": "quantitative"}, "y": {"field": "y", "type": "quantitative", "axis": null}, "y2": {"field": "yr"}}},
    {"data": {"name": "D_br"}, "mark": {"type": "text", "baseline": "bottom", "dy": 2, "color": "#222"}, "encoding": {"x": {"field": "mid", "type": "quantitative"}, "y": {"field": "y", "type": "quantitative", "axis": null}, "text": {"field": "txt"}, "size": {"condition": {"test": "datum.txt == 'ns'", "value": 10}, "value": 8}}},
    {"data": {"name": "D_tw"}, "mark": {"type": "rule", "color": "#555", "strokeWidth": 1}, "encoding": {"x": {"field": "x1", "type": "quantitative"}, "x2": {"field": "x2"}, "y": {"field": "bot", "type": "quantitative", "axis": null}}},
    {"data": {"name": "D_tw"}, "mark": {"type": "rule", "color": "#555", "strokeWidth": 1}, "encoding": {"x": {"field": "x1", "type": "quantitative"}, "y": {"field": "top", "type": "quantitative", "axis": null}, "y2": {"field": "bot"}}},
    {"data": {"name": "D_tw"}, "mark": {"type": "rule", "color": "#555", "strokeWidth": 1}, "encoding": {"x": {"field": "x2", "type": "quantitative"}, "y": {"field": "top", "type": "quantitative", "axis": null}, "y2": {"field": "bot"}}},
    {"data": {"values": [{}]}, "mark": {"type": "text", "align": "left", "baseline": "middle", "dx": -14, "dy": -11, "fontSize": 8.5, "color": "#333"}, "encoding": {"x": {"datum": 0.43, "type": "quantitative"}, "y": {"datum": 6000, "type": "quantitative", "axis": null}, "text": {"value": "B220⁺"}}}
   ]},
   {"layer": [
    {"data": {"name": "D_lab"}, "mark": {"type": "text", "baseline": "middle", "fontSize": 9, "color": "#222"},
     "encoding": {"x": {"field": "g", "type": "quantitative"}, "y": {"field": "row", "type": "nominal", "scale": {"type": "point", "domain": ["B cells","T cells"], "range": [213, 231], "padding": 0}, "axis": {"orient": "left", "domain": false, "ticks": false, "title": null, "labelPadding": 7}}, "text": {"field": "txt"}}},
    {"data": {"values": [{}]}, "mark": {"type": "text", "baseline": "middle", "dy": 11, "fontSize": 9, "color": "#222"}, "encoding": {"x": {"datum": 4.5, "type": "quantitative"}, "y": {"datum": "T cells", "type": "nominal"}, "text": {"value": "Transwell"}}}
   ]}
  ]
 },
 {"width": 50, "height": 1, "data": {"values": []}, "mark": "point"},
 {
  "width": 224, "height": 181,
  "view": {"stroke": "#999", "strokeWidth": 1},
  "resolve": {"scale": {"y": "independent"}, "axis": {"x": "independent"}},
  "layer": [
   {"layer": [
    {"data": {"name": "HIST"}, "transform": [{"filter": "datum.s == 'top'"}], "mark": {"type": "area", "interpolate": "monotone", "fill": "#5a5a5a", "stroke": "#111", "strokeWidth": 1, "opacity": 1},
     "encoding": {"x": {"field": "t", "type": "quantitative", "scale": {"domain": [-0.897, 1.678], "nice": false, "zero": false},
       "axis": {"orient": "bottom", "values": [0,1], "labelExpr": "datum.value == 0 ? '0' : '10⁴'", "tickSize": 5, "domain": false, "tickColor": "#222", "labelFont": "Lato", "labelFontSize": 8, "labelColor": "#333", "labelPadding": 3, "title": "SLAMF6", "titleFont": "Lato", "titleFontSize": 8.5, "titleColor": "#333", "titlePadding": 8}},
      "y": {"field": "c", "type": "quantitative", "stack": null, "scale": {"domain": [0, 100], "range": [90, 13], "nice": false}, "axis": null}}},
    {"data": {"values": [{}]}, "mark": {"type": "rule", "color": "#999", "strokeWidth": 1}, "encoding": {"y": {"datum": 0, "type": "quantitative", "axis": null}}},
    {"data": {"values": [{}]}, "mark": {"type": "text", "align": "left", "baseline": "top", "font": "Lato", "fontWeight": "bold", "fontSize": 10.5, "lineBreak": "\n", "lineHeight": 15, "color": "#111"}, "encoding": {"x": {"datum": -0.79, "type": "quantitative"}, "y": {"datum": 106.5, "type": "quantitative", "axis": null}, "text": {"value": "WT B cells +\nWT T cells"}}}
   ]},
   {"layer": [
    {"data": {"name": "HIST"}, "transform": [{"filter": "datum.s == 'mid'"}], "mark": {"type": "area", "interpolate": "monotone", "fill": "#8a8a8a", "stroke": "#111", "strokeWidth": 1, "opacity": 1, "blend": "multiply"},
     "encoding": {"x": {"field": "t", "type": "quantitative", "axis": {"orient": "bottom", "values": [-0.62,-0.47,-0.35,-0.3,-0.2,-0.17,-0.12,-0.1,-0.07,-0.05,0.05,0.08,0.27,0.42,0.5,0.57,0.62,0.66,0.84,0.97,1.15,1.31,1.41,1.47], "labels": false, "domain": false, "tickSize": 3, "tickColor": "#222", "title": null}},
      "y": {"field": "c", "type": "quantitative", "stack": null, "scale": {"domain": [0, 100], "range": [135, 58], "nice": false}, "axis": null}}},
    {"data": {"values": [{}]}, "mark": {"type": "rule", "color": "#999", "strokeWidth": 1}, "encoding": {"y": {"datum": 0, "type": "quantitative", "axis": null}}},
    {"data": {"values": [{}]}, "mark": {"type": "text", "align": "left", "baseline": "top", "font": "Lato", "fontWeight": "bold", "fontSize": 10.5, "lineBreak": "\n", "lineHeight": 15, "color": "#111"}, "encoding": {"x": {"datum": -0.79, "type": "quantitative"}, "y": {"datum": 46.8, "type": "quantitative", "axis": null}, "text": {"value": "WT B cells +\nSAP⁻ᐟ⁻ T cells"}}}
   ]},
   {"layer": [
    {"data": {"name": "HIST"}, "transform": [{"filter": "datum.s == 'bot'"}], "mark": {"type": "area", "interpolate": "monotone", "fill": "#d0d0d0", "stroke": "#111", "strokeWidth": 1, "opacity": 1, "blend": "multiply"},
     "encoding": {"x": {"field": "t", "type": "quantitative", "axis": {"orient": "bottom", "values": [-0.78,-0.24,0.16,0.7,1.51], "labels": false, "domain": false, "tickSize": 5, "tickColor": "#222", "title": null}}, "y": {"field": "c", "type": "quantitative", "stack": null, "scale": {"domain": [0, 100], "range": [181, 98], "nice": false}, "axis": null}}},
    {"data": {"values": [{}]}, "mark": {"type": "text", "align": "left", "baseline": "top", "font": "Lato", "fontWeight": "bold", "fontSize": 10.5, "color": "#111"}, "encoding": {"x": {"datum": -0.79, "type": "quantitative"}, "y": {"datum": 48.2, "type": "quantitative", "axis": null}, "text": {"value": "WT B cells"}}}
   ]}
  ]
 }
 ], "spacing": 0, "bounds": "flush", "resolve": {"scale": {"fill": "independent", "shape": "independent"}}},
 {"width": 1, "height": 291, "data": {"values": []}, "mark": "point"},
 {"hconcat": [
 {
  "width": 115, "height": 180,
  "title": {"text": "E", "dx": -40, "offset": -2},
  "resolve": {"scale": {"y": "independent"}},
  "layer": [
   {"resolve": {"axis": {"y": "independent"}},
    "layer": [
    {"data": {"name": "E_bars"}, "mark": {"type": "bar", "size": 36, "stroke": "#000", "strokeWidth": 1.5, "opacity": 1},
     "encoding": {
      "x": {"field": "g", "type": "quantitative", "scale": {"domain": [0.49, 2.66], "nice": false, "zero": false}, "axis": {"values": [1,2], "labels": false, "title": null, "tickSize": 4}},
      "y": {"field": "mean", "type": "quantitative", "scale": {"domain": [80, 160], "range": [180, 13], "nice": false, "zero": false}, "axis": {"orient": "left", "values": [80,100,120,140,160], "format": "d", "tickSize": 5, "labelPadding": 3, "title": "CD74 MFI", "titlePadding": 12}},
      "y2": {"datum": 80},
      "fill": {"field": "g", "type": "nominal", "scale": {"domain": [1,2], "range": ["#dadada","#ffffff"]}, "legend": null}}},
    {"data": {"name": "E_bars"}, "mark": {"type": "rule", "color": "#000", "strokeWidth": 1.5}, "encoding": {"x": {"field": "g", "type": "quantitative"}, "y": {"field": "lo", "type": "quantitative", "axis": null}, "y2": {"field": "hi"}}},
    {"data": {"name": "E_bars"}, "mark": {"type": "tick", "orient": "horizontal", "size": 16, "thickness": 1.5, "color": "#000", "opacity": 1}, "encoding": {"x": {"field": "g", "type": "quantitative"}, "y": {"field": "hi", "type": "quantitative", "axis": null}}},
    {"data": {"name": "E_bars"}, "mark": {"type": "tick", "orient": "horizontal", "size": 16, "thickness": 1.5, "color": "#000", "opacity": 1}, "encoding": {"x": {"field": "g", "type": "quantitative"}, "y": {"field": "lo", "type": "quantitative", "axis": null}}},
    {"data": {"name": "E_pts"}, "mark": {"type": "point", "filled": true, "color": "#000", "size": 24, "opacity": 1},
     "encoding": {"x": {"field": "g", "type": "quantitative"}, "xOffset": {"field": "rep", "type": "quantitative", "scale": {"domain": [-3, 3], "range": [-9, 9]}},
      "y": {"field": "v", "type": "quantitative", "axis": {"orient": "left", "values": [85,90,95,105,110,115,125,130,135,145,150,155], "labels": false, "domain": false, "tickSize": 3, "title": null}},
      "shape": {"field": "g", "type": "nominal", "scale": {"domain": [1,2], "range": ["circle","square"]}, "legend": null}}},
    {"data": {"name": "E_br"}, "mark": {"type": "rule", "color": "#7a7a7a", "strokeWidth": 1}, "encoding": {"x": {"field": "x1", "type": "quantitative"}, "x2": {"field": "x2"}, "y": {"field": "y", "type": "quantitative", "axis": null}}},
    {"data": {"name": "E_br"}, "mark": {"type": "rule", "color": "#7a7a7a", "strokeWidth": 1}, "encoding": {"x": {"field": "x1", "type": "quantitative"}, "y": {"field": "y", "type": "quantitative", "axis": null}, "y2": {"field": "yl"}}},
    {"data": {"name": "E_br"}, "mark": {"type": "rule", "color": "#7a7a7a", "strokeWidth": 1}, "encoding": {"x": {"field": "x2", "type": "quantitative"}, "y": {"field": "y", "type": "quantitative", "axis": null}, "y2": {"field": "yr"}}},
    {"data": {"name": "E_br"}, "mark": {"type": "text", "baseline": "bottom", "dy": 2, "color": "#222", "fontSize": 8}, "encoding": {"x": {"field": "mid", "type": "quantitative"}, "y": {"field": "y", "type": "quantitative", "axis": null}, "text": {"field": "txt"}}},
    {"data": {"values": [{}]}, "mark": {"type": "text", "align": "left", "baseline": "middle", "dx": -2, "dy": -6, "fontSize": 8.5, "color": "#333"}, "encoding": {"x": {"datum": 0.49, "type": "quantitative"}, "y": {"datum": 160, "type": "quantitative", "axis": null}, "text": {"value": "B220⁺"}}}
   ]},
   {"data": {"name": "E_lab"}, "mark": {"type": "text", "baseline": "middle", "fontSize": 9, "color": "#222"},
    "encoding": {"x": {"field": "g", "type": "quantitative"}, "y": {"field": "row", "type": "nominal", "scale": {"type": "point", "domain": ["B cells","T cells"], "range": [194, 210], "padding": 0}, "axis": {"orient": "left", "domain": false, "ticks": false, "title": null, "labelPadding": 5}}, "text": {"field": "txt"}}}
  ]
 },
 {"width": 63, "height": 1, "data": {"values": []}, "mark": "point"},
 {
  "width": 107, "height": 180,
  "title": {"text": "F", "dx": -33, "offset": -2},
  "resolve": {"axis": {"y": "independent"}},
  "layer": [
   {"data": {"name": "F_bars"}, "mark": {"type": "bar", "size": 36, "stroke": "#000", "strokeWidth": 1.5, "opacity": 1},
    "encoding": {
     "x": {"field": "g", "type": "quantitative", "scale": {"domain": [0.48, 2.54], "nice": false, "zero": false}, "axis": {"values": [1,2], "labelExpr": "datum.value == 1 ? 'IgG Ab' : 'CD74 Ab'", "title": null, "tickSize": 4, "labelPadding": 3}},
     "y": {"field": "mean", "type": "quantitative", "scale": {"domain": [0.8, 1.6], "range": [180, 15], "nice": false, "zero": false}, "axis": {"orient": "left", "values": [0.8,1.0,1.2,1.4,1.6], "format": ".1f", "tickSize": 5, "labelPadding": 3, "title": ["SLAMF6 surface expression", "(X - fold of \"IgG Ab\")"], "titlePadding": 1, "titleLineHeight": 14}},
     "y2": {"datum": 0.8},
     "fill": {"field": "g", "type": "nominal", "scale": {"domain": [1,2], "range": ["#dadada","#ffffff"]}, "legend": null}}},
   {"data": {"name": "F_bars"}, "mark": {"type": "rule", "color": "#000", "strokeWidth": 1.5}, "encoding": {"x": {"field": "g", "type": "quantitative"}, "y": {"field": "lo", "type": "quantitative", "axis": null}, "y2": {"field": "hi"}}},
   {"data": {"name": "F_bars"}, "mark": {"type": "tick", "orient": "horizontal", "size": 16, "thickness": 1.5, "color": "#000", "opacity": 1}, "encoding": {"x": {"field": "g", "type": "quantitative"}, "y": {"field": "hi", "type": "quantitative", "axis": null}}},
   {"data": {"name": "F_bars"}, "mark": {"type": "tick", "orient": "horizontal", "size": 16, "thickness": 1.5, "color": "#000", "opacity": 1}, "encoding": {"x": {"field": "g", "type": "quantitative"}, "y": {"field": "lo", "type": "quantitative", "axis": null}}},
   {"data": {"name": "F_pts"}, "mark": {"type": "point", "filled": true, "color": "#000", "size": 24, "opacity": 1, "shape": "square"},
    "encoding": {"x": {"field": "g", "type": "quantitative"}, "xOffset": {"field": "rep", "type": "quantitative", "scale": {"domain": [-3, 3], "range": [-9, 9]}},
     "y": {"field": "v", "type": "quantitative", "axis": {"orient": "left", "values": [0.85,0.9,0.95,1.05,1.1,1.15,1.25,1.3,1.35,1.45,1.5,1.55], "labels": false, "domain": false, "tickSize": 3, "title": null}}}},
   {"data": {"name": "F_br"}, "mark": {"type": "rule", "color": "#7a7a7a", "strokeWidth": 1}, "encoding": {"x": {"field": "x1", "type": "quantitative"}, "x2": {"field": "x2"}, "y": {"field": "y", "type": "quantitative", "axis": null}}},
   {"data": {"name": "F_br"}, "mark": {"type": "rule", "color": "#7a7a7a", "strokeWidth": 1}, "encoding": {"x": {"field": "x1", "type": "quantitative"}, "y": {"field": "y", "type": "quantitative", "axis": null}, "y2": {"field": "yl"}}},
   {"data": {"name": "F_br"}, "mark": {"type": "rule", "color": "#7a7a7a", "strokeWidth": 1}, "encoding": {"x": {"field": "x2", "type": "quantitative"}, "y": {"field": "y", "type": "quantitative", "axis": null}, "y2": {"field": "yr"}}},
   {"data": {"name": "F_br"}, "mark": {"type": "text", "baseline": "bottom", "dy": 2, "color": "#222", "fontSize": 8}, "encoding": {"x": {"field": "mid", "type": "quantitative"}, "y": {"field": "y", "type": "quantitative", "axis": null}, "text": {"field": "txt"}}},
   {"data": {"values": [{}]}, "mark": {"type": "text", "align": "left", "baseline": "middle", "dx": 5, "dy": -8, "fontSize": 8.5, "color": "#333"}, "encoding": {"x": {"datum": 0.48, "type": "quantitative"}, "y": {"datum": 1.6, "type": "quantitative", "axis": null}, "text": {"value": "B220⁺"}}}
  ]
 },
 {"width": 43, "height": 1, "data": {"values": []}, "mark": "point"},
 {
  "width": 197, "height": 187,
  "title": {"text": "G", "dx": -30, "offset": 0},
  "view": {"stroke": "#9a9a9a", "strokeWidth": 1},
  "resolve": {"axis": {"x": "independent", "y": "independent"}},
  "layer": [
   {"data": {"name": "G"}, "transform": [{"filter": "datum.cell == 'isotype'"}], "mark": {"type": "area", "interpolate": "monotone", "opacity": 1},
    "encoding": {
     "x": {"field": "t", "type": "quantitative", "scale": {"domain": [-1, 0, 1, 2, 3], "range": [13, 47, 77, 130, 182], "nice": false, "zero": false},
      "axis": {"orient": "bottom", "values": [-1,0,1,2,3], "labelExpr": "datum.value == -1 ? '-10³' : datum.value == 0 ? '0' : datum.value == 1 ? '10³' : datum.value == 2 ? '10⁴' : '10⁵'", "tickSize": 4, "domain": false, "tickColor": "#222", "labelFontSize": 6.5, "labelColor": "#444", "labelPadding": 2, "title": "EAT-2", "titleFontSize": 7, "titleColor": "#333", "titlePadding": 12}},
     "y": {"field": "pct", "type": "quantitative", "stack": null, "scale": {"domain": [0, 100], "range": [187, 9], "nice": false},
      "axis": {"orient": "left", "values": [0,20,40,60,80,100], "tickSize": 4, "domain": false, "tickColor": "#222", "labelFontSize": 6, "labelColor": "#444", "labelPadding": 3, "title": null}},
     "fill": {"field": "cell", "type": "nominal", "scale": {"domain": ["B cells","NK cells","T cells","isotype"], "range": ["#1f1f1f","#8c8c8c","#d6d6d6","#ffffff"]},
      "legend": {"title": null, "orient": "top-left", "offset": 6, "symbolType": "square", "symbolSize": 81, "symbolStrokeColor": "#000", "symbolStrokeWidth": 1, "symbolOpacity": 1, "labelFont": "Lato", "labelFontWeight": "bold", "labelFontSize": 10, "labelColor": "#111", "rowPadding": 1, "padding": 0}}}},
   {"data": {"name": "G"}, "transform": [{"filter": "datum.cell == 'T cells'"}], "mark": {"type": "area", "interpolate": "monotone", "stroke": "#7a7a7a", "strokeWidth": 1, "opacity": 1},
    "encoding": {"x": {"field": "t", "type": "quantitative", "axis": {"orient": "bottom", "values": [-0.75,-0.5,-0.25,0.25,0.5,0.75,1.301,1.477,1.602,1.699,1.778,1.845,1.903,1.954,2.301,2.477,2.602,2.699,2.778,2.845,2.903,2.954], "labels": false, "domain": false, "tickSize": 2, "tickColor": "#222", "title": null}},
     "y": {"field": "pct", "type": "quantitative", "stack": null, "axis": {"orient": "left", "values": [5,10,15,25,30,35,45,50,55,65,70,75,85,90,95], "labels": false, "domain": false, "tickSize": 2, "tickColor": "#222", "title": null}},
     "fill": {"field": "cell", "type": "nominal"}}},
   {"data": {"name": "G"}, "transform": [{"filter": "datum.cell == 'NK cells'"}], "mark": {"type": "area", "interpolate": "monotone", "stroke": "#4a4a4a", "strokeWidth": 1, "opacity": 1},
    "encoding": {"x": {"field": "t", "type": "quantitative", "axis": null}, "y": {"field": "pct", "type": "quantitative", "stack": null, "axis": null}, "fill": {"field": "cell", "type": "nominal"}}},
   {"data": {"name": "G"}, "transform": [{"filter": "datum.cell == 'B cells'"}], "mark": {"type": "area", "interpolate": "monotone", "stroke": "#000", "strokeWidth": 1, "opacity": 1},
    "encoding": {"x": {"field": "t", "type": "quantitative", "axis": null}, "y": {"field": "pct", "type": "quantitative", "stack": null, "axis": null}, "fill": {"field": "cell", "type": "nominal"}}},
   {"data": {"name": "G"}, "transform": [{"filter": "datum.cell == 'isotype'"}], "mark": {"type": "line", "interpolate": "monotone", "color": "#222", "strokeWidth": 1.3, "strokeDash": [2, 2]},
    "encoding": {"x": {"field": "t", "type": "quantitative", "axis": null}, "y": {"field": "pct", "type": "quantitative", "axis": null}}}
  ]
 },
 {"width": 8, "height": 1, "data": {"values": []}, "mark": "point"},
 {
  "width": 177, "height": 204,
  "title": {"text": "H", "dx": 53, "offset": -2},
  "layer": [
   {"data": {"name": "H_blot"}, "mark": {"type": "rect", "cornerRadius": 3},
    "encoding": {"x": {"field": "x1", "type": "quantitative", "scale": {"domain": [-0.757, 1.771], "nice": false, "zero": false}, "axis": null}, "x2": {"field": "x2"},
     "y": {"field": "y1", "type": "quantitative", "scale": {"domain": [0, 10.2], "reverse": true, "nice": false, "zero": false}, "axis": null}, "y2": {"field": "y2"},
     "fill": {"field": "signal", "type": "quantitative", "scale": {"domain": [0, 1], "range": ["#ffffff", "#151515"]}, "legend": null}}},
   {"data": {"name": "H_box"}, "mark": {"type": "rect", "fill": "#ffffff", "stroke": "#111", "strokeWidth": 1},
    "encoding": {"x": {"field": "x1", "type": "quantitative"}, "x2": {"field": "x2"}, "y": {"field": "y1", "type": "quantitative"}, "y2": {"field": "y2"}}},
   {"data": {"name": "H_txt"}, "transform": [{"filter": "datum.txt == 'IP:' || datum.txt == 'IB:'"}], "mark": {"type": "text", "align": "right", "baseline": "middle", "font": "Lato", "fontSize": 13, "color": "#111"},
    "encoding": {"x": {"field": "x", "type": "quantitative"}, "y": {"field": "y", "type": "quantitative"}, "text": {"field": "txt"}}},
   {"data": {"name": "H_txt"}, "transform": [{"filter": "datum.txt != 'IP:' && datum.txt != 'IB:'"}], "mark": {"type": "text", "align": "center", "baseline": "middle", "font": "Lato", "color": "#111"},
    "encoding": {"x": {"field": "x", "type": "quantitative"}, "y": {"field": "y", "type": "quantitative"}, "text": {"field": "txt"}, "size": {"condition": {"test": "datum.txt == '21 kDa'", "value": 9.5}, "value": 12.5}}},
   {"data": {"name": "H_arr"}, "mark": {"type": "rule", "color": "#111", "strokeWidth": 1}, "encoding": {"x": {"field": "x1", "type": "quantitative"}, "x2": {"field": "x2"}, "y": {"field": "y", "type": "quantitative"}}},
   {"data": {"name": "H_arr"}, "mark": {"type": "point", "shape": "triangle-right", "filled": true, "color": "#111", "size": 16, "opacity": 1}, "encoding": {"x": {"field": "x2", "type": "quantitative"}, "y": {"field": "y", "type": "quantitative"}}}
  ]
 }
 ], "spacing": 0, "bounds": "flush", "resolve": {"scale": {"fill": "independent", "shape": "independent"}}},
 {"width": 1, "height": 259, "data": {"values": []}, "mark": "point"},
 {"hconcat": [
 {
  "width": 106, "height": 167,
  "title": {"text": "I", "dx": -40, "offset": -10},
  "resolve": {"axis": {"y": "independent"}},
  "layer": [
   {"data": {"name": "I_bars"}, "mark": {"type": "bar", "size": 36, "stroke": "#000", "strokeWidth": 1.5, "opacity": 1},
    "encoding": {
     "x": {"field": "g", "type": "quantitative", "scale": {"domain": [0.51, 2.51], "nice": false, "zero": false}, "axis": {"values": [1,2], "labelExpr": "datum.value == 1 ? 'SiControl' : 'SiEAT2'", "title": null, "tickSize": 4, "labelPadding": 3}},
     "y": {"field": "mean", "type": "quantitative", "scale": {"domain": [0, 1.4], "range": [167, 0], "nice": false}, "axis": {"orient": "left", "values": [0,0.2,0.4,0.6,0.8,1.0,1.2,1.4], "format": ".1f", "tickSize": 5, "labelPadding": 3, "title": ["SLAMF6 expression", "(X - fold of \"siControl\")"], "titlePadding": 1, "titleLineHeight": 15}},
     "fill": {"field": "g", "type": "nominal", "scale": {"domain": [1,2], "range": ["#dadada","#ffffff"]}, "legend": null}}},
   {"data": {"name": "I_bars"}, "mark": {"type": "rule", "color": "#000", "strokeWidth": 1.5}, "encoding": {"x": {"field": "g", "type": "quantitative"}, "y": {"field": "lo", "type": "quantitative", "axis": null}, "y2": {"field": "hi"}}},
   {"data": {"name": "I_bars"}, "mark": {"type": "tick", "orient": "horizontal", "size": 16, "thickness": 1.5, "color": "#000", "opacity": 1}, "encoding": {"x": {"field": "g", "type": "quantitative"}, "y": {"field": "hi", "type": "quantitative", "axis": null}}},
   {"data": {"name": "I_bars"}, "mark": {"type": "tick", "orient": "horizontal", "size": 16, "thickness": 1.5, "color": "#000", "opacity": 1}, "encoding": {"x": {"field": "g", "type": "quantitative"}, "y": {"field": "lo", "type": "quantitative", "axis": null}}},
   {"data": {"name": "I_pts"}, "mark": {"type": "point", "filled": true, "color": "#000", "size": 24, "opacity": 1},
    "encoding": {"x": {"field": "g", "type": "quantitative"}, "xOffset": {"field": "rep", "type": "quantitative", "scale": {"domain": [-3, 3], "range": [-9, 9]}},
     "y": {"field": "v", "type": "quantitative", "axis": {"orient": "left", "values": [0.05,0.1,0.15,0.25,0.3,0.35,0.45,0.5,0.55,0.65,0.7,0.75,0.85,0.9,0.95,1.05,1.1,1.15,1.25,1.3,1.35], "labels": false, "domain": false, "tickSize": 3, "title": null}},
     "shape": {"field": "g", "type": "nominal", "scale": {"domain": [1,2], "range": ["circle","square"]}, "legend": null}}},
   {"data": {"name": "I_br"}, "mark": {"type": "rule", "color": "#7a7a7a", "strokeWidth": 1}, "encoding": {"x": {"field": "x1", "type": "quantitative"}, "x2": {"field": "x2"}, "y": {"field": "y", "type": "quantitative", "axis": null}}},
   {"data": {"name": "I_br"}, "mark": {"type": "rule", "color": "#7a7a7a", "strokeWidth": 1}, "encoding": {"x": {"field": "x1", "type": "quantitative"}, "y": {"field": "y", "type": "quantitative", "axis": null}, "y2": {"field": "yl"}}},
   {"data": {"name": "I_br"}, "mark": {"type": "rule", "color": "#7a7a7a", "strokeWidth": 1}, "encoding": {"x": {"field": "x2", "type": "quantitative"}, "y": {"field": "y", "type": "quantitative", "axis": null}, "y2": {"field": "yr"}}},
   {"data": {"name": "I_br"}, "mark": {"type": "text", "baseline": "bottom", "dy": 2, "color": "#222", "fontSize": 8}, "encoding": {"x": {"field": "mid", "type": "quantitative"}, "y": {"field": "y", "type": "quantitative", "axis": null}, "text": {"field": "txt"}}},
   {"data": {"values": [{}]}, "mark": {"type": "text", "align": "left", "baseline": "middle", "dx": 3, "dy": -7, "fontSize": 8.5, "color": "#333"}, "encoding": {"x": {"datum": 0.51, "type": "quantitative"}, "y": {"datum": 1.4, "type": "quantitative", "axis": null}, "text": {"value": "B220⁺"}}}
  ]
 },
 {"width": 72, "height": 1, "data": {"values": []}, "mark": "point"},
 {
  "width": 105, "height": 167,
  "title": {"text": "J", "dx": -34, "offset": -10},
  "resolve": {"axis": {"y": "independent"}},
  "layer": [
   {"data": {"name": "J_bars"}, "mark": {"type": "bar", "size": 36, "stroke": "#000", "strokeWidth": 1.5, "opacity": 1},
    "encoding": {
     "x": {"field": "g", "type": "quantitative", "scale": {"domain": [0.49, 2.47], "nice": false, "zero": false}, "axis": {"values": [1,2], "labelExpr": "datum.value == 1 ? 'SiControl' : 'SiEAT2'", "title": null, "tickSize": 4, "labelPadding": 3}},
     "y": {"field": "mean", "type": "quantitative", "scale": {"domain": [0, 1.2], "range": [167, 1], "nice": false}, "axis": {"orient": "left", "values": [0,0.2,0.4,0.6,0.8,1.0,1.2], "format": ".1f", "tickSize": 5, "labelPadding": 3, "title": ["Live B cells (Annex V⁻ 7aad⁻)", "(X - fold of \"siControl\")"], "titlePadding": 1, "titleLineHeight": 13}},
     "fill": {"field": "g", "type": "nominal", "scale": {"domain": [1,2], "range": ["#dadada","#ffffff"]}, "legend": null}}},
   {"data": {"name": "J_bars"}, "mark": {"type": "rule", "color": "#000", "strokeWidth": 1.5}, "encoding": {"x": {"field": "g", "type": "quantitative"}, "y": {"field": "lo", "type": "quantitative", "axis": null}, "y2": {"field": "hi"}}},
   {"data": {"name": "J_bars"}, "mark": {"type": "tick", "orient": "horizontal", "size": 16, "thickness": 1.5, "color": "#000", "opacity": 1}, "encoding": {"x": {"field": "g", "type": "quantitative"}, "y": {"field": "hi", "type": "quantitative", "axis": null}}},
   {"data": {"name": "J_bars"}, "mark": {"type": "tick", "orient": "horizontal", "size": 16, "thickness": 1.5, "color": "#000", "opacity": 1}, "encoding": {"x": {"field": "g", "type": "quantitative"}, "y": {"field": "lo", "type": "quantitative", "axis": null}}},
   {"data": {"name": "J_pts"}, "mark": {"type": "point", "filled": true, "color": "#000", "size": 24, "opacity": 1},
    "encoding": {"x": {"field": "g", "type": "quantitative"}, "xOffset": {"field": "rep", "type": "quantitative", "scale": {"domain": [-3, 3], "range": [-9, 9]}},
     "y": {"field": "v", "type": "quantitative", "axis": {"orient": "left", "values": [0.05,0.1,0.15,0.25,0.3,0.35,0.45,0.5,0.55,0.65,0.7,0.75,0.85,0.9,0.95,1.05,1.1,1.15], "labels": false, "domain": false, "tickSize": 3, "title": null}},
     "shape": {"field": "g", "type": "nominal", "scale": {"domain": [1,2], "range": ["circle","square"]}, "legend": null}}},
   {"data": {"name": "J_br"}, "mark": {"type": "rule", "color": "#7a7a7a", "strokeWidth": 1}, "encoding": {"x": {"field": "x1", "type": "quantitative"}, "x2": {"field": "x2"}, "y": {"field": "y", "type": "quantitative", "axis": null}}},
   {"data": {"name": "J_br"}, "mark": {"type": "rule", "color": "#7a7a7a", "strokeWidth": 1}, "encoding": {"x": {"field": "x1", "type": "quantitative"}, "y": {"field": "y", "type": "quantitative", "axis": null}, "y2": {"field": "yl"}}},
   {"data": {"name": "J_br"}, "mark": {"type": "rule", "color": "#7a7a7a", "strokeWidth": 1}, "encoding": {"x": {"field": "x2", "type": "quantitative"}, "y": {"field": "y", "type": "quantitative", "axis": null}, "y2": {"field": "yr"}}},
   {"data": {"name": "J_br"}, "mark": {"type": "text", "baseline": "bottom", "dy": 2, "color": "#222", "fontSize": 8}, "encoding": {"x": {"field": "mid", "type": "quantitative"}, "y": {"field": "y", "type": "quantitative", "axis": null}, "text": {"field": "txt"}}},
   {"data": {"values": [{}]}, "mark": {"type": "text", "align": "left", "baseline": "middle", "dx": 3, "dy": -8, "fontSize": 8.5, "color": "#333"}, "encoding": {"x": {"datum": 0.49, "type": "quantitative"}, "y": {"datum": 1.2, "type": "quantitative", "axis": null}, "text": {"value": "B220⁺"}}}
  ]
 }
 ], "spacing": 0, "bounds": "flush", "resolve": {"scale": {"fill": "independent", "shape": "independent"}}}
]
}
